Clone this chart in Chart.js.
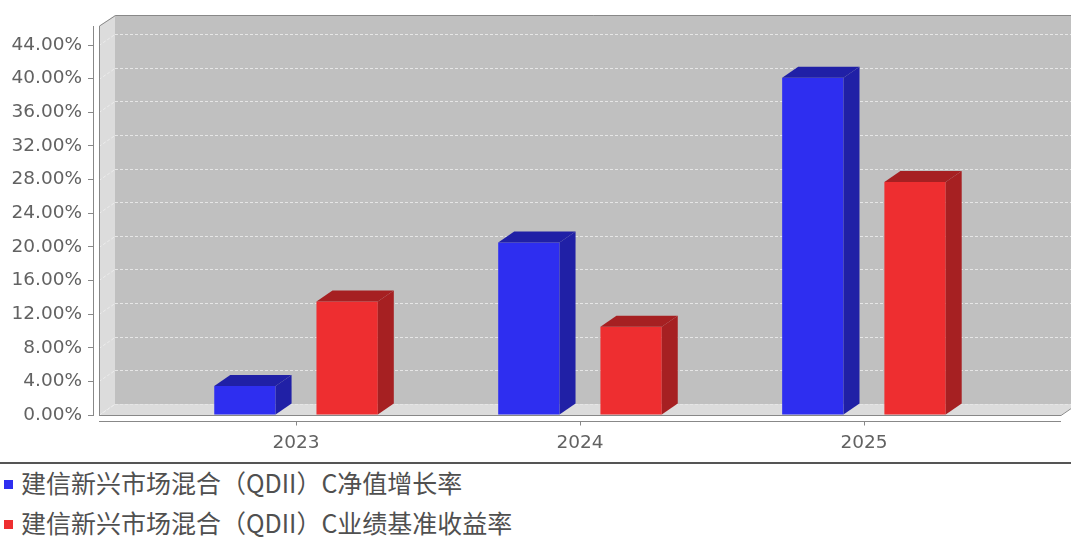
<!DOCTYPE html>
<html lang="zh">
<head>
<meta charset="UTF-8">
<title>建信新兴市场混合（QDII）C</title>
<script src="https://cdn.jsdelivr.net/npm/chart.js"></script>
<style>
  body { margin: 0; background: #fff; }
  #legend { border-top: 2px solid #555; width: 1071px; }
  .item { height: 40px; line-height: 40px; font: 25px "Noto Sans CJK SC", sans-serif; color: #505050; white-space: nowrap; }
  .box { display: inline-block; width: 9px; height: 9px; margin: 0 8px 0 4px; vertical-align: middle; position: relative; top: -2px; }
</style>
</head>
<body>
<canvas id="myChart" width="1071" height="462"></canvas>
<div id="legend"></div>
<script>
// data
const years = [2023, 2024, 2025];
const seriesNames = ['建信新兴市场混合（QDII）C净值增长率', '建信新兴市场混合（QDII）C业绩基准收益率'];
const navGrowth = [3.45, 20.5, 40.1];
const benchmark = [13.5, 10.5, 27.7];
const yTicks = [0, 4, 8, 12, 16, 20, 24, 28, 32, 36, 40, 44];

const frontColors = ['#2e2ef0', '#ee2e30'];
const darkColors = ['#2020a6', '#a62022'];
const DX = 16, DY = 11;

// walls, floor and grid of the 3d plot
const wallPlugin = {
  id: 'walls',
  beforeDatasetsDraw(chart) {
    const ctx = chart.ctx, a = chart.chartArea, y = chart.scales.y;
    const L = a.left + 6, R = a.right, T = a.top, B = a.bottom;
    ctx.save();
    ctx.fillStyle = '#c0c0c0';
    ctx.fillRect(L + DX, T - DY, R - L, B - T);
    ctx.fillStyle = '#dcdcdc';
    ctx.beginPath();
    ctx.moveTo(L, T); ctx.lineTo(L + DX, T - DY); ctx.lineTo(L + DX, B - DY); ctx.lineTo(L, B);
    ctx.closePath(); ctx.fill();
    ctx.beginPath();
    ctx.moveTo(L, B); ctx.lineTo(L + DX, B - DY); ctx.lineTo(R + DX, B - DY); ctx.lineTo(R, B);
    ctx.closePath(); ctx.fill();
    // dashed grid lines on the back wall
    ctx.setLineDash([3, 2]);
    ctx.lineWidth = 1;
    yTicks.forEach(v => {
      const py = Math.round(y.getPixelForValue(v) - DY) + 0.5;
      ctx.strokeStyle = '#e6e6e6';
      ctx.beginPath(); ctx.moveTo(L + DX, py); ctx.lineTo(R + DX, py); ctx.stroke();
      ctx.strokeStyle = 'rgba(255,255,255,0.45)';
      ctx.beginPath(); ctx.moveTo(L, py + DY); ctx.lineTo(L + DX, py); ctx.stroke();
    });
    ctx.setLineDash([]);
    // outline
    ctx.strokeStyle = '#888';
    ctx.beginPath();
    ctx.moveTo(L + 0.5, B); ctx.lineTo(L + 0.5, T); ctx.lineTo(L + DX + 0.5, T - DY + 0.5); ctx.lineTo(R + DX, T - DY + 0.5);
    ctx.stroke();
    ctx.beginPath();
    ctx.moveTo(L, B + 0.5); ctx.lineTo(R, B + 0.5); ctx.lineTo(R + DX, B - DY + 0.5);
    ctx.stroke();
    ctx.restore();
  },
  afterDatasetsDraw(chart) {
    const ctx = chart.ctx;
    ctx.save();
    chart.data.datasets.forEach((ds, i) => {
      chart.getDatasetMeta(i).data.forEach(bar => {
        const l = bar.x - bar.width / 2, r = bar.x + bar.width / 2, t = bar.y, b = bar.base;
        ctx.fillStyle = darkColors[i];
        ctx.beginPath();
        ctx.moveTo(l, t); ctx.lineTo(l + DX, t - DY); ctx.lineTo(r + DX, t - DY); ctx.lineTo(r, t);
        ctx.closePath(); ctx.fill();
        ctx.beginPath();
        ctx.moveTo(r, t); ctx.lineTo(r + DX, t - DY); ctx.lineTo(r + DX, b - DY); ctx.lineTo(r, b);
        ctx.closePath(); ctx.fill();
      });
    });
    // category axis line and ticks
    const a = chart.chartArea, x = chart.scales.x;
    const ay = a.bottom + 6.5;
    ctx.strokeStyle = '#888';
    ctx.lineWidth = 1;
    ctx.beginPath(); ctx.moveTo(a.left + 6, ay); ctx.lineTo(a.right, ay); ctx.stroke();
    years.forEach(v => {
      const px = Math.round(x.getPixelForValue(v)) + 0.5;
      ctx.beginPath(); ctx.moveTo(px, ay); ctx.lineTo(px, ay + 4); ctx.stroke();
    });
    ctx.restore();
  }
};

const ctx = document.getElementById('myChart').getContext('2d');
const myChart = new Chart(ctx, {
  type: 'bar',
  data: {
    datasets: [
      { label: seriesNames[0], data: years.map((yr, i) => ({ x: yr, y: navGrowth[i] })), backgroundColor: frontColors[0] },
      { label: seriesNames[1], data: years.map((yr, i) => ({ x: yr, y: benchmark[i] })), backgroundColor: frontColors[1] }
    ]
  },
  options: {
    responsive: false,
    animation: false,
    categoryPercentage: 0.72,
    barPercentage: 0.6,
    layout: { padding: { top: 26, right: 10, left: 0, bottom: 0 } },
    plugins: { legend: { display: false }, tooltip: { enabled: false } },
    scales: {
      x: {
        type: 'linear',
        offset: false,
        min: 2022.285,
        max: 2025.694,
        afterBuildTicks: s => { s.ticks = years.map(v => ({ value: v })); },
        afterFit: s => { s.height = 47; },
        grid: { display: false, offset: false },
        border: { display: false },
        ticks: {
          padding: 9,
          color: '#626262',
          font: { family: 'DejaVu Sans', size: 18.5 },
          callback: v => String(v)
        }
      },
      y: {
        min: 0,
        max: 46.26,
        afterBuildTicks: s => { s.ticks = yTicks.map(v => ({ value: v })); },
        afterFit: s => { s.width = 93; },
        grid: { drawOnChartArea: false, drawTicks: true, tickLength: 5, color: '#888' },
        border: { display: true, color: '#888' },
        ticks: {
          padding: 6,
          color: '#626262',
          font: { family: 'DejaVu Sans', size: 18.5 },
          callback: v => v.toFixed(2) + '%'
        }
      }
    }
  },
  plugins: [wallPlugin]
});

// legend below the chart
const legend = document.getElementById('legend');
seriesNames.forEach((name, i) => {
  const row = document.createElement('div');
  row.className = 'item';
  const box = document.createElement('span');
  box.className = 'box';
  box.style.background = frontColors[i];
  row.appendChild(box);
  row.appendChild(document.createTextNode(name));
  legend.appendChild(row);
});
</script>
</body>
</html>
